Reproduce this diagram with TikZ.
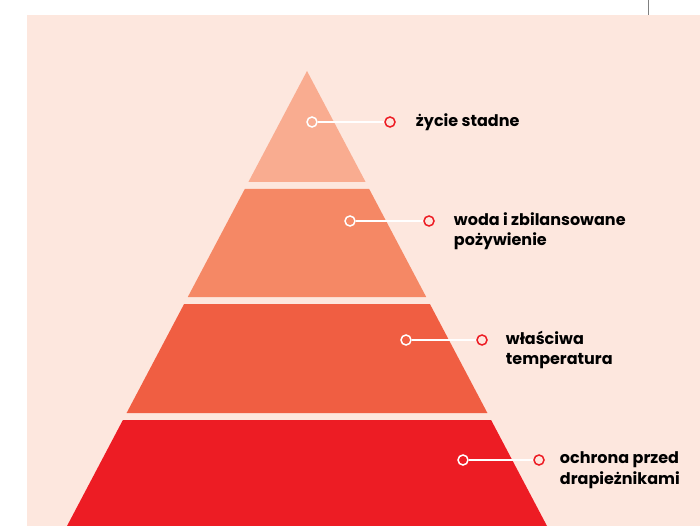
\documentclass[tikz,border=0pt]{standalone}
\usepackage{fontspec}
\setmainfont{Poppins}
\usetikzlibrary{positioning}
\definecolor{peach}{RGB}{253, 231, 222}
\definecolor{tierone}{RGB}{249, 172, 144}
\definecolor{tiertwo}{RGB}{245, 136, 101}
\definecolor{tierthree}{RGB}{240, 94, 66}
\definecolor{tierfour}{RGB}{237, 28, 36}
\definecolor{dotred}{RGB}{237, 28, 36}
\tikzset{
	whitedot/.style={circle, draw=white, line width=1.5pt, minimum size=10pt, inner sep=0pt},
	reddot/.style={circle, draw=dotred, line width=1.5pt, minimum size=10pt, inner sep=0pt},
	lbl/.style={font=\fontsize{16}{20.5}\selectfont\bfseries, align=left, inner sep=0pt, text=black},
	leader/.style={draw=white, line width=1.2pt}
}
\begin{document}
\begin{tikzpicture}[x=1pt, y=-1pt]
	\useasboundingbox (0,0) rectangle (700,526);
	\fill[white] (0,0) rectangle (700,526);
	\draw[gray, line width=1pt] (648,0) -- (648,15);
	\fill[peach] (27,15) rectangle (700,526);
	% pyramid tiers
	\fill[tierone] (307,71) -- (365.6,182) -- (248.4,182) -- cycle;
	\fill[tiertwo] (244.8,189) -- (369.2,189) -- (426.2,297) -- (187.8,297) -- cycle;
	\fill[tierthree] (184.1,304) -- (429.9,304) -- (487.4,413) -- (126.6,413) -- cycle;
	\fill[tierfour] (122.9,420) -- (491.1,420) -- (547,526) -- (67,526) -- cycle;
	% markers
	\node[whitedot] (w1) at (312,122) {};
	\node[reddot] (r1) at (390,122) {};
	\node[whitedot] (w2) at (350,221) {};
	\node[reddot] (r2) at (429,221) {};
	\node[whitedot] (w3) at (406,340) {};
	\node[reddot] (r3) at (482,340) {};
	\node[whitedot] (w4) at (463,460) {};
	\node[reddot] (r4) at (539,460) {};
	\draw[leader] (w1) -- (r1);
	\draw[leader] (w2) -- (r2);
	\draw[leader] (w3) -- (r3);
	\draw[leader] (w4) -- (r4);
	% labels
	\node[lbl, right=20pt of r1] (t1) {życie stadne};
	\node[lbl, right=19pt of r2, yshift=-10pt] (t2) {woda i zbilansowane\\pożywienie};
	\node[lbl, right=18pt of r3, yshift=-10pt] (t3) {właściwa\\temperatura};
	\node[lbl, right=15pt of r4, yshift=-10pt] (t4) {ochrona przed\\drapieżnikami};
\end{tikzpicture}
\end{document}
